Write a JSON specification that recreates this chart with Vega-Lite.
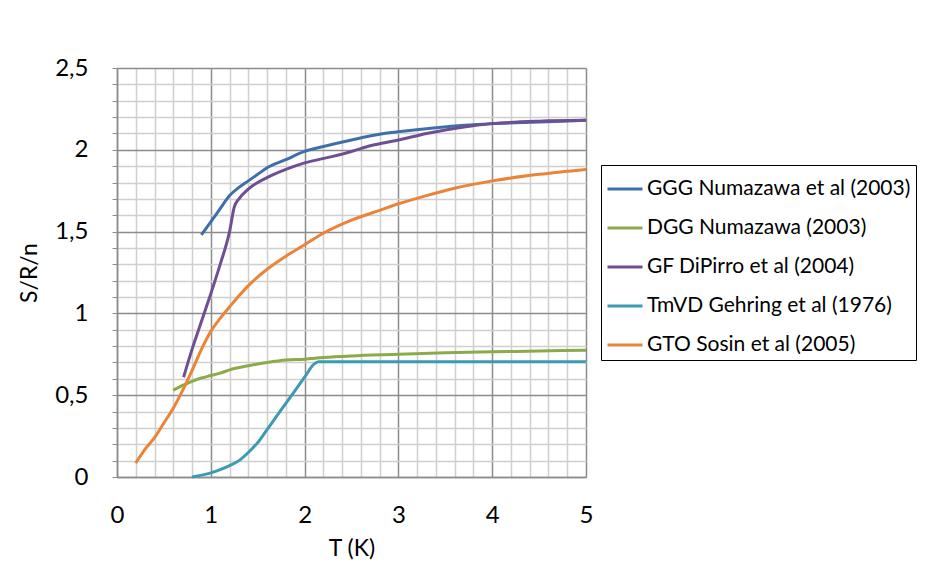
{
  "$schema": "https://vega.github.io/schema/vega-lite/v6.json",
  "autosize": {"type": "none"},
  "width": 469,
  "height": 409,
  "padding": {"left": 117, "top": 68, "right": 346, "bottom": 85},
  "background": "white",
  "config": {
    "font": "Lato",
    "view": {"stroke": null},
    "axis": {"labelFont": "Lato", "titleFont": "Lato", "labelColor": "#000", "titleColor": "#000", "titleFontWeight": "normal", "labelFontSize": 24, "titleFontSize": 23}
  },
  "data": {"values": [
    {"series": "GGG Numazawa et al (2003)", "T": 0.9, "S": 1.48},
    {"series": "GGG Numazawa et al (2003)", "T": 1.0, "S": 1.56},
    {"series": "GGG Numazawa et al (2003)", "T": 1.1, "S": 1.64},
    {"series": "GGG Numazawa et al (2003)", "T": 1.2, "S": 1.72},
    {"series": "GGG Numazawa et al (2003)", "T": 1.3, "S": 1.77},
    {"series": "GGG Numazawa et al (2003)", "T": 1.4, "S": 1.81},
    {"series": "GGG Numazawa et al (2003)", "T": 1.5, "S": 1.85},
    {"series": "GGG Numazawa et al (2003)", "T": 1.6, "S": 1.89},
    {"series": "GGG Numazawa et al (2003)", "T": 1.8, "S": 1.94},
    {"series": "GGG Numazawa et al (2003)", "T": 2.0, "S": 1.99},
    {"series": "GGG Numazawa et al (2003)", "T": 2.2, "S": 2.02},
    {"series": "GGG Numazawa et al (2003)", "T": 2.5, "S": 2.06},
    {"series": "GGG Numazawa et al (2003)", "T": 2.8, "S": 2.095},
    {"series": "GGG Numazawa et al (2003)", "T": 3.0, "S": 2.11},
    {"series": "GGG Numazawa et al (2003)", "T": 3.4, "S": 2.135},
    {"series": "GGG Numazawa et al (2003)", "T": 3.7, "S": 2.15},
    {"series": "GGG Numazawa et al (2003)", "T": 4.0, "S": 2.16},
    {"series": "GGG Numazawa et al (2003)", "T": 4.5, "S": 2.17},
    {"series": "GGG Numazawa et al (2003)", "T": 5.0, "S": 2.18},

    {"series": "DGG Numazawa (2003)", "T": 0.6, "S": 0.53},
    {"series": "DGG Numazawa (2003)", "T": 0.7, "S": 0.56},
    {"series": "DGG Numazawa (2003)", "T": 0.8, "S": 0.585},
    {"series": "DGG Numazawa (2003)", "T": 0.9, "S": 0.605},
    {"series": "DGG Numazawa (2003)", "T": 1.0, "S": 0.62},
    {"series": "DGG Numazawa (2003)", "T": 1.1, "S": 0.635},
    {"series": "DGG Numazawa (2003)", "T": 1.2, "S": 0.655},
    {"series": "DGG Numazawa (2003)", "T": 1.4, "S": 0.68},
    {"series": "DGG Numazawa (2003)", "T": 1.6, "S": 0.70},
    {"series": "DGG Numazawa (2003)", "T": 1.8, "S": 0.715},
    {"series": "DGG Numazawa (2003)", "T": 2.0, "S": 0.72},
    {"series": "DGG Numazawa (2003)", "T": 2.2, "S": 0.73},
    {"series": "DGG Numazawa (2003)", "T": 2.5, "S": 0.74},
    {"series": "DGG Numazawa (2003)", "T": 3.0, "S": 0.75},
    {"series": "DGG Numazawa (2003)", "T": 3.5, "S": 0.76},
    {"series": "DGG Numazawa (2003)", "T": 4.0, "S": 0.765},
    {"series": "DGG Numazawa (2003)", "T": 4.5, "S": 0.77},
    {"series": "DGG Numazawa (2003)", "T": 5.0, "S": 0.775},

    {"series": "GF DiPirro et al (2004)", "T": 0.71, "S": 0.61},
    {"series": "GF DiPirro et al (2004)", "T": 0.8, "S": 0.78},
    {"series": "GF DiPirro et al (2004)", "T": 0.9, "S": 0.95},
    {"series": "GF DiPirro et al (2004)", "T": 1.0, "S": 1.12},
    {"series": "GF DiPirro et al (2004)", "T": 1.1, "S": 1.3},
    {"series": "GF DiPirro et al (2004)", "T": 1.2, "S": 1.5},
    {"series": "GF DiPirro et al (2004)", "T": 1.25, "S": 1.65},
    {"series": "GF DiPirro et al (2004)", "T": 1.3, "S": 1.7},
    {"series": "GF DiPirro et al (2004)", "T": 1.4, "S": 1.76},
    {"series": "GF DiPirro et al (2004)", "T": 1.6, "S": 1.83},
    {"series": "GF DiPirro et al (2004)", "T": 1.8, "S": 1.88},
    {"series": "GF DiPirro et al (2004)", "T": 2.0, "S": 1.92},
    {"series": "GF DiPirro et al (2004)", "T": 2.3, "S": 1.96},
    {"series": "GF DiPirro et al (2004)", "T": 2.5, "S": 1.99},
    {"series": "GF DiPirro et al (2004)", "T": 2.7, "S": 2.025},
    {"series": "GF DiPirro et al (2004)", "T": 3.0, "S": 2.06},
    {"series": "GF DiPirro et al (2004)", "T": 3.3, "S": 2.1},
    {"series": "GF DiPirro et al (2004)", "T": 3.7, "S": 2.14},
    {"series": "GF DiPirro et al (2004)", "T": 4.0, "S": 2.16},
    {"series": "GF DiPirro et al (2004)", "T": 4.5, "S": 2.175},
    {"series": "GF DiPirro et al (2004)", "T": 5.0, "S": 2.18},

    {"series": "TmVD Gehring et al (1976)", "T": 0.8, "S": 0.0},
    {"series": "TmVD Gehring et al (1976)", "T": 1.0, "S": 0.025},
    {"series": "TmVD Gehring et al (1976)", "T": 1.1, "S": 0.045},
    {"series": "TmVD Gehring et al (1976)", "T": 1.2, "S": 0.07},
    {"series": "TmVD Gehring et al (1976)", "T": 1.3, "S": 0.1},
    {"series": "TmVD Gehring et al (1976)", "T": 1.4, "S": 0.15},
    {"series": "TmVD Gehring et al (1976)", "T": 1.5, "S": 0.21},
    {"series": "TmVD Gehring et al (1976)", "T": 1.6, "S": 0.29},
    {"series": "TmVD Gehring et al (1976)", "T": 1.7, "S": 0.37},
    {"series": "TmVD Gehring et al (1976)", "T": 1.8, "S": 0.45},
    {"series": "TmVD Gehring et al (1976)", "T": 1.9, "S": 0.53},
    {"series": "TmVD Gehring et al (1976)", "T": 2.0, "S": 0.61},
    {"series": "TmVD Gehring et al (1976)", "T": 2.1, "S": 0.69},
    {"series": "TmVD Gehring et al (1976)", "T": 2.15, "S": 0.705},
    {"series": "TmVD Gehring et al (1976)", "T": 3.0, "S": 0.705},
    {"series": "TmVD Gehring et al (1976)", "T": 4.0, "S": 0.705},
    {"series": "TmVD Gehring et al (1976)", "T": 5.0, "S": 0.705},

    {"series": "GTO Sosin et al (2005)", "T": 0.2, "S": 0.085},
    {"series": "GTO Sosin et al (2005)", "T": 0.3, "S": 0.17},
    {"series": "GTO Sosin et al (2005)", "T": 0.4, "S": 0.24},
    {"series": "GTO Sosin et al (2005)", "T": 0.5, "S": 0.33},
    {"series": "GTO Sosin et al (2005)", "T": 0.6, "S": 0.42},
    {"series": "GTO Sosin et al (2005)", "T": 0.7, "S": 0.53},
    {"series": "GTO Sosin et al (2005)", "T": 0.8, "S": 0.65},
    {"series": "GTO Sosin et al (2005)", "T": 0.9, "S": 0.78},
    {"series": "GTO Sosin et al (2005)", "T": 1.0, "S": 0.89},
    {"series": "GTO Sosin et al (2005)", "T": 1.1, "S": 0.97},
    {"series": "GTO Sosin et al (2005)", "T": 1.2, "S": 1.04},
    {"series": "GTO Sosin et al (2005)", "T": 1.4, "S": 1.17},
    {"series": "GTO Sosin et al (2005)", "T": 1.6, "S": 1.27},
    {"series": "GTO Sosin et al (2005)", "T": 1.8, "S": 1.35},
    {"series": "GTO Sosin et al (2005)", "T": 2.0, "S": 1.42},
    {"series": "GTO Sosin et al (2005)", "T": 2.2, "S": 1.49},
    {"series": "GTO Sosin et al (2005)", "T": 2.5, "S": 1.57},
    {"series": "GTO Sosin et al (2005)", "T": 2.8, "S": 1.63},
    {"series": "GTO Sosin et al (2005)", "T": 3.0, "S": 1.67},
    {"series": "GTO Sosin et al (2005)", "T": 3.3, "S": 1.72},
    {"series": "GTO Sosin et al (2005)", "T": 3.6, "S": 1.765},
    {"series": "GTO Sosin et al (2005)", "T": 4.0, "S": 1.81},
    {"series": "GTO Sosin et al (2005)", "T": 4.5, "S": 1.85},
    {"series": "GTO Sosin et al (2005)", "T": 5.0, "S": 1.88}
  ]},
  "mark": {"type": "line", "strokeWidth": 3, "interpolate": "monotone"},
  "encoding": {
    "x": {
      "field": "T", "type": "quantitative",
      "scale": {"domain": [0, 5], "nice": false, "zero": false},
      "axis": {
        "title": "T (K)",
        "values": [0,0.2,0.4,0.6,0.8,1,1.2,1.4,1.6,1.8,2,2.2,2.4,2.6,2.8,3,3.2,3.4,3.6,3.8,4,4.2,4.4,4.6,4.8,5],
        "labelExpr": "abs(datum.value - round(datum.value)) < 0.001 ? format(datum.value, 'd') : ''",
        "ticks": false,
        "labelPadding": 26,
        "titlePadding": 10,
        "domainColor": "#8c8c8c",
        "domainWidth": 1.5,
        "grid": true,
        "gridColor": {"expr": "abs(datum.value - round(datum.value)) < 0.001 ? '#8c8c8c' : '#cfcfcf'"},
        "gridWidth": 1.5,
        "labelFlush": false,
        "labelOverlap": false
      }
    },
    "y": {
      "field": "S", "type": "quantitative",
      "scale": {"domain": [0, 2.5], "nice": false},
      "axis": {
        "title": "S/R/n",
        "values": [0,0.1,0.2,0.3,0.4,0.5,0.6,0.7,0.8,0.9,1,1.1,1.2,1.3,1.4,1.5,1.6,1.7,1.8,1.9,2,2.1,2.2,2.3,2.4,2.5],
        "labelExpr": "abs(datum.value*2 - round(datum.value*2)) < 0.001 ? replace(format(datum.value, '~g'), '.', ',') : ''",
        "tickSize": 5,
        "tickColor": "#8c8c8c",
        "labelPadding": 24,
        "titlePadding": 13,
        "domainColor": "#8c8c8c",
        "domainWidth": 1.5,
        "grid": true,
        "gridColor": {"expr": "abs(datum.value*2 - round(datum.value*2)) < 0.001 ? '#8c8c8c' : '#cfcfcf'"},
        "gridWidth": 1.5,
        "labelOverlap": false,
        "labelFlush": false
      }
    },
    "color": {
      "field": "series", "type": "nominal",
      "scale": {
        "domain": ["GGG Numazawa et al (2003)", "DGG Numazawa (2003)", "GF DiPirro et al (2004)", "TmVD Gehring et al (1976)", "GTO Sosin et al (2005)"],
        "range": ["#3f6fa9", "#8bab4b", "#6e4f94", "#3c9bb3", "#ea8438"]
      },
      "legend": {
        "title": null,
        "orient": "none",
        "legendX": 484,
        "legendY": 97,
        "strokeColor": "#000",
        "padding": 5,
        "labelFont": "Lato",
        "labelFontSize": 21,
        "labelColor": "#000",
        "labelLimit": 400,
        "labelOffset": 3,
        "rowPadding": 10,
        "symbolType": "stroke",
        "symbolSize": 1225,
        "symbolStrokeWidth": 3
      }
    },
    "order": {"field": "T", "type": "quantitative"}
  }
}
